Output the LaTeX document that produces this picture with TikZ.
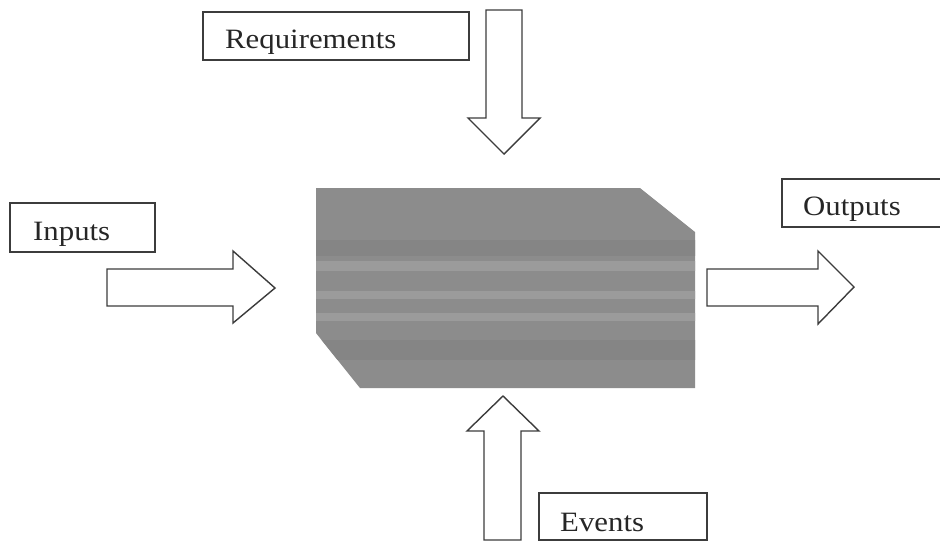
\documentclass[tikz,border=0pt]{standalone}
\usepackage{fontspec}
\setmainfont{Liberation Serif}[FakeStretch=1.1]
\definecolor{procgray}{RGB}{140,140,140}
\definecolor{proclight}{RGB}{155,155,155}
\definecolor{procdark}{RGB}{133,133,133}
\definecolor{inkline}{RGB}{60,60,60}
\tikzset{
  boxline/.style={draw=inkline, line width=1.4pt},
  blockarrow/.style={draw=inkline, line width=1.4pt, fill=white, line join=miter},
  lbl/.style={anchor=base west, inner sep=0pt, font=\fontsize{28}{28}\selectfont, text=black!85},
}
\begin{document}
\begin{tikzpicture}[x=1pt,y=-1pt]
\clip (0,0) rectangle (940,542);
\fill[white] (0,0) rectangle (940,542);

% central process shape
\begin{scope}
  \clip (316,188) -- (640,188) -- (695,232) -- (695,388) -- (360,388) -- (316,333) -- cycle;
  \fill[procgray] (300,180) rectangle (700,400);
  \fill[procdark] (300,240) rectangle (700,256);
  \fill[proclight] (300,261) rectangle (700,271);
  \fill[proclight] (300,291) rectangle (700,299);
  \fill[proclight] (300,313) rectangle (700,321);
  \fill[procdark] (300,340) rectangle (700,360);
\end{scope}
\coordinate (proc) at (505,288);

% Requirements
\draw[boxline] (203,12) rectangle (469,60);
\node[lbl] (req) at (225,48) {Requirements};
\draw[blockarrow] (486,10) -- (522,10) -- (522,118) -- (540,118) -- (504,154) -- (468,118) -- (486,118) -- cycle;

% Inputs
\draw[boxline] (10,203) rectangle (155,252);
\node[lbl] (inp) at (33,240) {Inputs};
\draw[blockarrow] (107,269) -- (233,269) -- (233,251) -- (275,288) -- (233,323) -- (233,306) -- (107,306) -- cycle;

% Outputs
\draw[boxline] (782,179) rectangle (946,227);
\node[lbl] (out) at (803,215) {Outputs};
\draw[blockarrow] (707,269) -- (818,269) -- (818,251) -- (854,287) -- (818,324) -- (818,306) -- (707,306) -- cycle;

% Events
\draw[blockarrow] (503,396) -- (539,431) -- (521,431) -- (521,540) -- (484,540) -- (484,431) -- (467,431) -- cycle;
\draw[boxline] (539,493) rectangle (707,540);
\node[lbl] (ev) at (560,531) {Events};
\end{tikzpicture}
\end{document}
